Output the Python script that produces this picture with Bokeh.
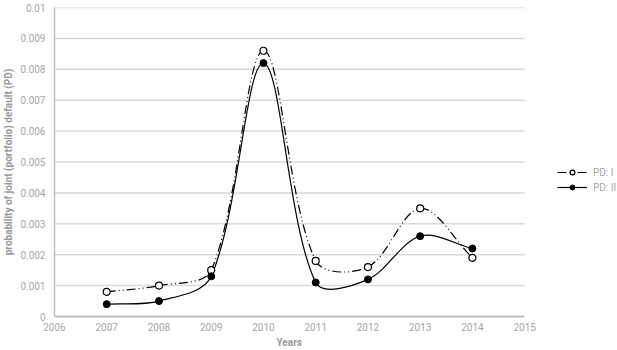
import numpy as np
from bokeh.plotting import figure
from bokeh.models import (ColumnDataSource, Legend, LegendItem, FixedTicker,
                          CustomJSTickFormatter, Range1d, Title)
from bokeh.embed import file_html
from bokeh.resources import INLINE

# ---- data ----
years = [2007, 2008, 2009, 2010, 2011, 2012, 2013, 2014]
pd_1 = [0.0008, 0.0010, 0.0015, 0.0086, 0.0018, 0.0016, 0.0035, 0.0019]
pd_2 = [0.0004, 0.0005, 0.0013, 0.0082, 0.0011, 0.0012, 0.0026, 0.0022]
series_names = ["PD: I", "PD: II"]
x_ticks = [2006, 2007, 2008, 2009, 2010, 2011, 2012, 2013, 2014, 2015]
y_ticks = [0, 0.001, 0.002, 0.003, 0.004, 0.005, 0.006, 0.007, 0.008, 0.009, 0.01]
x_title = "Years"
y_title = "probability of joint (portfolio) default (PD)"


def smooth_segments(xs, ys, sx=52.3, sy=30900.0, k=1.0 / 3.0):
    """Bezier control points for a smoothed line through the data points
    (chord-length weighted cardinal spline, computed in screen-like units)."""
    P = np.column_stack([np.asarray(xs, float) * sx, np.asarray(ys, float) * sy])
    n = len(P)
    d = [np.hypot(*(P[i + 1] - P[i])) for i in range(n - 1)]
    fwd = np.zeros_like(P)
    bwd = np.zeros_like(P)
    for i in range(n):
        a = P[max(i - 1, 0)]
        b = P[min(i + 1, n - 1)]
        tv = b - a
        dl = d[i - 1] if i > 0 else 0.0
        dr = d[i] if i < n - 1 else 0.0
        tot = dl + dr
        fwd[i] = P[i] + tv * (dr / tot) * k
        bwd[i] = P[i] - tv * (dl / tot) * k
    out = dict(x0=[], y0=[], x1=[], y1=[], cx0=[], cy0=[], cx1=[], cy1=[])
    for i in range(n - 1):
        out["x0"].append(float(P[i][0] / sx)); out["y0"].append(float(P[i][1] / sy))
        out["x1"].append(float(P[i + 1][0] / sx)); out["y1"].append(float(P[i + 1][1] / sy))
        out["cx0"].append(float(fwd[i][0] / sx)); out["cy0"].append(float(fwd[i][1] / sy))
        out["cx1"].append(float(bwd[i + 1][0] / sx)); out["cy1"].append(float(bwd[i + 1][1] / sy))
    return out


FONT = "Roboto"
TICK_COLOR = "#a6a6a6"
TITLE_COLOR = "#999999"

x_lo, x_hi = x_ticks[0], x_ticks[-1]
# frame extends right of the last year so that the legend has room inside it
p = figure(width=617, height=350, output_backend="svg", toolbar_location=None,
           x_range=Range1d(x_lo, x_hi + 1.777), y_range=Range1d(y_ticks[0], y_ticks[-1]))
p.min_border_top = 7
p.min_border_left = 53
p.min_border_right = 0
p.min_border_bottom = 34
p.outline_line_color = None
p.background_fill_color = "white"
p.border_fill_color = "white"

# grid (horizontal lines limited to the years span)
p.xgrid.visible = False
p.ygrid.visible = False
p.segment(x0=[x_lo] * len(y_ticks[1:]), x1=[x_hi] * len(y_ticks[1:]),
          y0=y_ticks[1:], y1=y_ticks[1:], line_color="#d9d9d9", line_width=1.5,
          level="underlay")

# axes
p.xaxis.ticker = FixedTicker(ticks=x_ticks)
p.xaxis.bounds = (x_lo, x_hi)
p.yaxis.ticker = FixedTicker(ticks=y_ticks)
p.yaxis.formatter = CustomJSTickFormatter(code="return String(Number(tick.toFixed(3)));")
for ax in (p.xaxis[0], p.yaxis[0]):
    ax.major_tick_line_color = None
    ax.minor_tick_line_color = None
    ax.major_tick_out = 0
    ax.major_tick_in = 0
    ax.minor_tick_out = 0
    ax.minor_tick_in = 0
    ax.major_label_text_font = FONT
    ax.major_label_text_font_size = "10px"
    ax.major_label_text_color = TICK_COLOR
    ax.axis_label_text_font = FONT
    ax.axis_label_text_font_style = "bold"
    ax.axis_label_text_color = TITLE_COLOR
p.yaxis.axis_label = y_title
p.yaxis.axis_label_text_font_size = "10px"
p.xaxis.axis_line_color = "#bfbfbf"
p.xaxis.axis_line_width = 2
p.yaxis.axis_line_color = "#bfbfbf"
p.yaxis.axis_line_width = 1.5
p.xaxis.major_label_standoff = 6
p.yaxis.major_label_standoff = 9
p.yaxis.axis_label_standoff = 3

# x-axis title, centred under the 2006-2015 span
p.add_layout(Title(text=x_title, align="left", offset=222, standoff=3,
                   text_font=FONT, text_font_size="10px", text_font_style="bold",
                   text_color=TITLE_COLOR), "below")

# series
src1 = ColumnDataSource(smooth_segments(years, pd_1))
src2 = ColumnDataSource(smooth_segments(years, pd_2))
b1 = p.bezier(x0="x0", y0="y0", x1="x1", y1="y1", cx0="cx0", cy0="cy0",
              cx1="cx1", cy1="cy1", source=src1, line_color="black",
              line_width=1.2, line_dash="9 3 1 3 1 3")
b2 = p.bezier(x0="x0", y0="y0", x1="x1", y1="y1", cx0="cx0", cy0="cy0",
              cx1="cx1", cy1="cy1", source=src2, line_color="black",
              line_width=1.2)
s1 = p.scatter(years, pd_1, size=7, marker="circle", fill_color="white",
               line_color="black", line_width=1.2)
s2 = p.scatter(years, pd_2, size=7, marker="circle", fill_color="black",
               line_color="black", line_width=1)

legend = Legend(items=[LegendItem(label=series_names[0], renderers=[b1, s1]),
                       LegendItem(label=series_names[1], renderers=[b2, s2])],
                location=(503, 123))
legend.border_line_color = None
legend.background_fill_alpha = 0
legend.glyph_width = 30
legend.glyph_height = 12
legend.spacing = 3
legend.padding = 0
legend.margin = 0
legend.label_standoff = 6
legend.label_text_font = FONT
legend.label_text_font_size = "10px"
legend.label_text_color = TICK_COLOR
p.add_layout(legend)

open("out.html", "w").write(file_html(p, INLINE))
